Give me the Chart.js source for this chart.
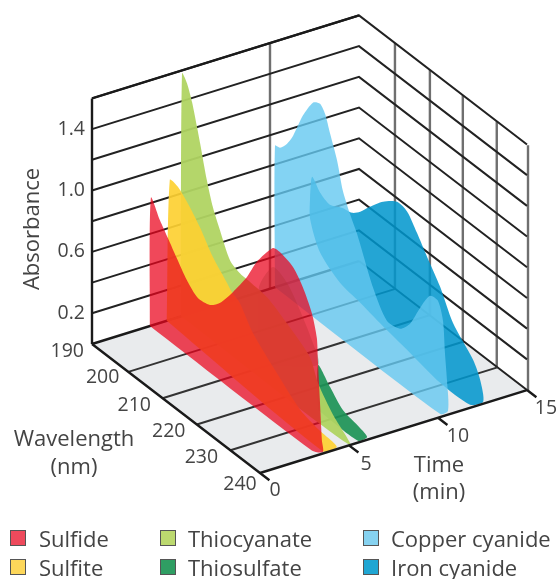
<!DOCTYPE html>
<html>
<head>
<meta charset="utf-8">
<style>
    html, body { margin: 0; padding: 0; background: #fff; }
    #wrap { position: relative; width: 557px; height: 579px; overflow: hidden; }
    .item { position: absolute; font: 22px "Open Sans", sans-serif; color: #444; line-height: 26px; white-space: nowrap; }
    .box { position: absolute; width: 14px; height: 14px; border: 1px solid #555; }
</style>
<script src="https://cdn.jsdelivr.net/npm/chart.js@4/dist/chart.umd.js"></script>
</head>
<body>
<div id="wrap"><canvas id="graph1" width="557" height="579"></canvas></div>
<script>
    // series: each one is an outline in the plane time = const
    var seriesNames = ['Sulfide', 'Sulfite', 'Thiocyanate', 'Thiosulfate', 'Copper cyanide', 'Iron cyanide'];
    var seriesTimes = [3.25, 4.2, 5, 5.6, 10.28, 11.8];

    var sulfideWl = [190, 190.3, 193, 195.4, 198, 201, 204.3, 207.9, 210.8, 214.7, 218.9, 221.8, 226.6, 228.7, 232.6, 235.5, 238.2, 239.7, 240, 240.6, 241.2, 241.5, 238.2];
    var sulfideAbs = [0, .84, .74, .663, .578, .485, .423, .438, .5, .636, .805, .951, 1.123, 1.132, 1.1, 1.019, .895, .757, .62, .368, .117, .045, 0];

    var sulfiteWl = [190, 190.9, 193.3, 196.8, 199.8, 203.7, 207.9, 209.3, 211.7, 215.6, 222.7, 229.6, 235.5, 240.6, 236.4];
    var sulfiteAbs = [0, .933, .928, .857, .777, .647, .549, .513, .482, .352, .211, .09, .05, .03, -.07];

    var thiocyanateWl = [190, 190.3, 191.8, 193.3, 194.8, 195.7, 197.7, 199.5, 201.6, 204.6, 207.6, 209.6, 215.6, 221.5, 228.4, 230.8, 235.2, 240.3];
    var thiocyanateAbs = [0, 1.588, 1.548, 1.45, 1.311, 1.222, 1.016, .87, .756, .61, .575, .571, .554, .484, .378, .25, .12, .005];

    // the part of thiosulfate that shows past the sulfide peak
    var thiosulfateWl = [227.6, 227.6, 231.2, 235, 240.1, 242.2, 239.5];
    var thiosulfateAbs = [0, .293, .21, .124, .093, .07, 0];

    // the part seen only as a faint shade through the sulfide peak
    var thiosulfateBehindWl = [210, 210, 214.2, 218.4, 221.3, 226.1, 227.6];
    var thiosulfateBehindAbs = [0, .5, .706, .673, .592, .411, .293];

    var copperWl = [190, 190, 191.5, 193.6, 195.4, 198.3, 201.3, 203.4, 204.9, 206.4, 208.5, 210.2, 212.3, 214.4, 219.2, 223.3, 227.2, 230.2, 233.2, 236.1, 238.5, 240, 240.6, 241.2, 241.5, 239.1];
    var copperAbs = [0, .922, .933, .995, 1.077, 1.257, 1.392, 1.42, 1.38, 1.276, 1.135, .968, .853, .759, .487, .341, .355, .438, .592, .719, .727, .622, .417, .251, .061, 0];

    var ironWl = [192.4, 193, 195.4, 198.3, 201.9, 204.9, 207.3, 210.2, 214.1, 218.3, 221.3, 224.2, 227.2, 231.1, 234.9, 240.9, 243, 243.9, 240, 231.1, 222.1, 215.3, 207.3, 201.3, 195.4, 192.4];
    var ironAbs = [.588, .715, .651, .622, .663, .68, .727, .808, .907, .977, .963, .874, .769, .638, .468, .328, .233, .104, .02, .013, .058, .09, .135, .164, .26, .43];

    var seriesWl = [sulfideWl, sulfiteWl, thiocyanateWl, thiosulfateWl, copperWl, ironWl];
    var seriesAbs = [sulfideAbs, sulfiteAbs, thiocyanateAbs, thiosulfateAbs, copperAbs, ironAbs];
    var seriesFill = ['rgba(234,4,29,0.73)', 'rgba(253,208,50,0.92)', 'rgba(176,212,98,0.95)', 'rgba(28,146,86,0.92)', 'rgba(100,200,240,0.8)', 'rgba(0,150,205,0.86)'];
    var seriesSwatch = ['#ee4a5c', '#fdd75a', '#bcd96f', '#2f9e63', '#86d2f0', '#1fa6d3'];

    // axes
    var absorbanceTicks = ['0.2', '0.6', '1.0', '1.4'];
    var absorbanceGrid = [0.2, 0.4, 0.6, 0.8, 1.0, 1.2, 1.4, 1.6];
    var wavelengthTicks = ['190', '200', '210', '220', '230', '240'];
    var wavelengthFloor = [200.8, 211, 221.2, 231.2];
    var wavelengthWall = [200.7, 211.1, 220.9, 231, 240.3];
    var timeTicks = ['0', '5', '10', '15'];

    // oblique projection of (time, wavelength, absorbance) on the flat chart scales
    function project(t, wl, a) {
        return {
            x: 92 + 17.8 * t + 3.36 * (wl - 190),
            y: 344 - 5.53 * t + 2.58 * (wl - 190) - 153.5 * a
        };
    }

    function polyline(list, t1, wl1, a1, t2, wl2, a2) {
        list.push(project(t1, wl1, a1), project(t2, wl2, a2), {x: NaN, y: NaN});
    }

    var wallLines = [], wallVerticals = [], floorLines = [], backFrame = [], frontFrame = [];

    absorbanceGrid.forEach(function(a) {
        wallLines.push(project(0, 190, a), project(15, 190, a), project(15, 240, a), {x: NaN, y: NaN});
    });
    wallLines.push(project(15, 190, 0), project(15, 240, 0), {x: NaN, y: NaN});
    wavelengthWall.forEach(function(wl) {
        polyline(wallVerticals, 15, wl, 0, 15, wl, 1.6);
    });
    polyline(wallVerticals, 10, 190, 0, 10, 190, 1.6);
    wavelengthFloor.forEach(function(wl) {
        polyline(floorLines, 0, wl, 0, 15, wl, 0);
    });
    polyline(backFrame, 0, 190, 0, 0, 190, 1.6);
    polyline(backFrame, 0, 190, 1.6, 15, 190, 1.6);
    polyline(backFrame, 0, 190, 0, 15, 190, 0);
    polyline(frontFrame, 0, 190, 0, 0, 240, 0);
    polyline(frontFrame, 0, 240, 0, 15, 240, 0);
    [0, 5, 10, 15].forEach(function(t) {
        polyline(frontFrame, t, 240, 0, t, 242.8, 0);
    });

    function lineSet(points, color, width) {
        return {
            data: points,
            showLine: true,
            fill: false,
            borderColor: color,
            borderWidth: width,
            pointRadius: 0,
            tension: 0,
            spanGaps: false
        };
    }

    function outlineSet(name, t, wls, abss, color) {
        var outline = wls.map(function(wl, i) {
            return project(t, wl, abss[i]);
        });
        outline.push(outline[0]);
        return {
            label: name,
            data: outline,
            showLine: true,
            fill: 'shape',
            backgroundColor: color,
            borderWidth: 0,
            pointRadius: 0,
            tension: 0.25
        };
    }

    // back to front
    var layers = [];
    layers.push({
        data: [project(0, 190, 0), project(15, 190, 0), project(15, 240, 0), project(0, 240, 0)],
        showLine: true,
        fill: 'shape',
        backgroundColor: '#e9ebed',
        borderWidth: 0,
        pointRadius: 0
    });
    layers.push(lineSet(wallVerticals, '#6f6f6f', 2.4));
    layers.push(lineSet(wallLines, '#222', 2));
    layers.push(lineSet(floorLines, '#333', 2));
    layers.push(lineSet(backFrame, '#1a1a1a', 2.4));

    for (var s = seriesNames.length - 1; s >= 0; s--) {
        layers.push(outlineSet(seriesNames[s], seriesTimes[s], seriesWl[s], seriesAbs[s], seriesFill[s]));
        if (seriesNames[s] === 'Thiosulfate') {
            layers.push(outlineSet('Thiosulfate', seriesTimes[s], thiosulfateBehindWl, thiosulfateBehindAbs, 'rgba(28,146,86,0.3)'));
        }
    }
    layers.push(lineSet(frontFrame, '#1a1a1a', 2.4));

    layers.forEach(function(d, i) {
        d.order = layers.length - i;
    });

    var labelsPlugin = {
        id: 'labels3d',
        afterDraw: function(chart) {
            var ctx = chart.ctx;
            var sx = chart.scales.x, sy = chart.scales.y;
            function put(text, t, wl, a, dx, dy, align) {
                var p = project(t, wl, a);
                ctx.textAlign = align || 'center';
                ctx.fillText(text, sx.getPixelForValue(p.x) + dx, sy.getPixelForValue(p.y) + dy);
            }
            ctx.save();
            ctx.fillStyle = '#444';
            ctx.font = '19.5px "Open Sans", sans-serif';
            ctx.textBaseline = 'middle';
            absorbanceTicks.forEach(function(label) {
                put(label, 0, 190, parseFloat(label), -7, 0, 'right');
            });
            wavelengthTicks.forEach(function(label, i) {
                put(label, 0, parseFloat(label), 0, [-8, -23, -25, -24, -25, -20][i], [7, 8, 10, 10, 10, 11][i], i === 0 ? 'right' : 'center');
            });
            timeTicks.forEach(function(label, i) {
                put(label, parseFloat(label), 240, 0, [15, 17, 20, 19][i], [17, 19, 19, 18][i]);
            });
            ctx.font = '22px "Open Sans", sans-serif';
            ctx.textAlign = 'center';
            ctx.fillText('Wavelength', 74, 440);
            ctx.fillText('(nm)', 74, 468);
            ctx.fillText('Time', 439, 466);
            ctx.fillText('(min)', 439, 493);
            ctx.translate(33, 229);
            ctx.rotate(-Math.PI / 2);
            ctx.fillText('Absorbance', 0, 0);
            ctx.restore();
        }
    };

    window.onload = function() {
        var ctx = document.getElementById('graph1').getContext('2d');
        window.absorbanceChart = new Chart(ctx, {
            type: 'scatter',
            data: { datasets: layers },
            plugins: [labelsPlugin],
            options: {
                responsive: false,
                animation: false,
                layout: { padding: 0 },
                scales: {
                    x: { type: 'linear', min: 0, max: 557, display: false },
                    y: { type: 'linear', min: 0, max: 579, reverse: true, display: false }
                },
                plugins: {
                    legend: { display: false },
                    tooltip: { enabled: false }
                }
            }
        });

        // legend, filled column by column
        var wrap = document.getElementById('wrap');
        var boxX = [10, 160, 363], textX = [39, 188, 391], rowY = [538, 567];
        seriesNames.forEach(function(name, i) {
            var col = Math.floor(i / 2), row = i % 2;
            var box = document.createElement('div');
            box.className = 'box';
            box.style.left = boxX[col] + 'px';
            box.style.top = (rowY[row] - 8) + 'px';
            box.style.background = seriesSwatch[i];
            wrap.appendChild(box);
            var item = document.createElement('div');
            item.className = 'item';
            item.textContent = name;
            item.style.left = textX[col] + 'px';
            item.style.top = (rowY[row] - 13) + 'px';
            wrap.appendChild(item);
        });
    };
</script>
</body>
</html>
